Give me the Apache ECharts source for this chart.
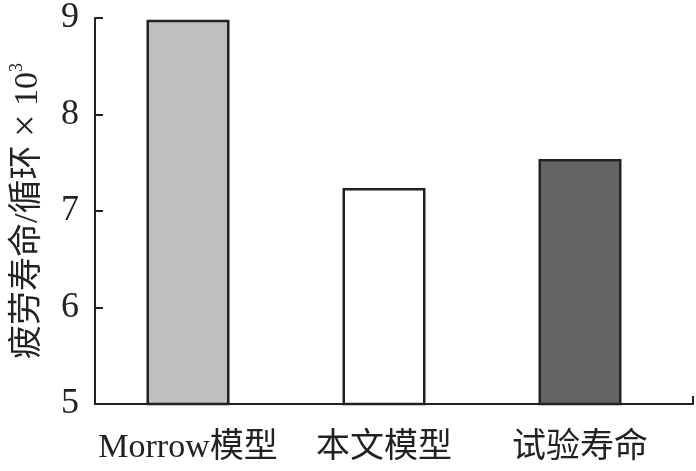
<!DOCTYPE html>
<html>
<head>
<meta charset="utf-8">
<script src="https://cdn.jsdelivr.net/npm/echarts@6/dist/echarts.min.js"></script>
<style>html,body{margin:0;padding:0;background:#fff}#c{width:696px;height:471px}</style>
</head>
<body>
<div id="c"></div>
<script>
const categories = ['Morrow模型', '本文模型', '试验寿命'];
const values = [8.95, 7.22, 7.52];
const barColors = ['#c0c0c0', '#ffffff', '#646464'];
const yTicks = [5, 6, 7, 8, 9];

const serif = '"Liberation Serif", "Noto Sans CJK SC", serif';
const chart = echarts.init(document.getElementById('c'), null, {renderer: 'canvas'});
chart.setOption({
  animation: false,
  backgroundColor: '#fff',
  grid: [
    {left: 85, right: 3, top: 15, bottom: 67},
    {left: 90, right: 18, top: 15, bottom: 67}
  ],
  xAxis: [
    {
      gridIndex: 0, type: 'value', min: 0, max: 1, interval: 1,
      axisLine: {show: true, lineStyle: {color: '#222', width: 2}},
      axisTick: {show: true, inside: true, length: 8, lineStyle: {color: '#222', width: 2}},
      axisLabel: {show: false}, splitLine: {show: false}
    },
    {
      gridIndex: 1, type: 'category', data: categories, boundaryGap: true,
      axisLine: {show: false}, axisTick: {show: false}, splitLine: {show: false},
      axisLabel: {color: '#222', fontSize: 34, fontFamily: serif, margin: 27, interval: 0, hideOverlap: false}
    }
  ],
  yAxis: [
    {
      gridIndex: 0, type: 'value', min: yTicks[0], max: yTicks[yTicks.length - 1], interval: 1,
      axisLine: {show: true, lineStyle: {color: '#222', width: 2}},
      axisTick: {show: true, inside: true, length: 8, lineStyle: {color: '#222', width: 2}},
      splitLine: {show: false},
      axisLabel: {color: '#222', fontSize: 36, fontFamily: serif, margin: 16},
      name: '疲劳寿命/循环 {x|×} 10{sup|3}',
      nameLocation: 'middle', nameGap: 47, nameRotate: 90,
      nameTextStyle: {
        color: '#222', fontSize: 34, fontFamily: serif,
        rich: {
          x: {fontSize: 40, fontFamily: serif, color: '#222'},
          sup: {fontSize: 18, fontFamily: serif, color: '#222', verticalAlign: 'top', padding: [0, 0, 14, 0]}
        }
      }
    },
    {
      gridIndex: 1, type: 'value', min: yTicks[0], max: yTicks[yTicks.length - 1], show: false
    }
  ],
  series: [{
    type: 'bar', xAxisIndex: 1, yAxisIndex: 1, barWidth: 83,
    data: values.map((v, i) => ({value: v, itemStyle: {color: barColors[i]}})),
    itemStyle: {borderColor: '#222', borderWidth: 2.5}
  }]
});
</script>
</body>
</html>
